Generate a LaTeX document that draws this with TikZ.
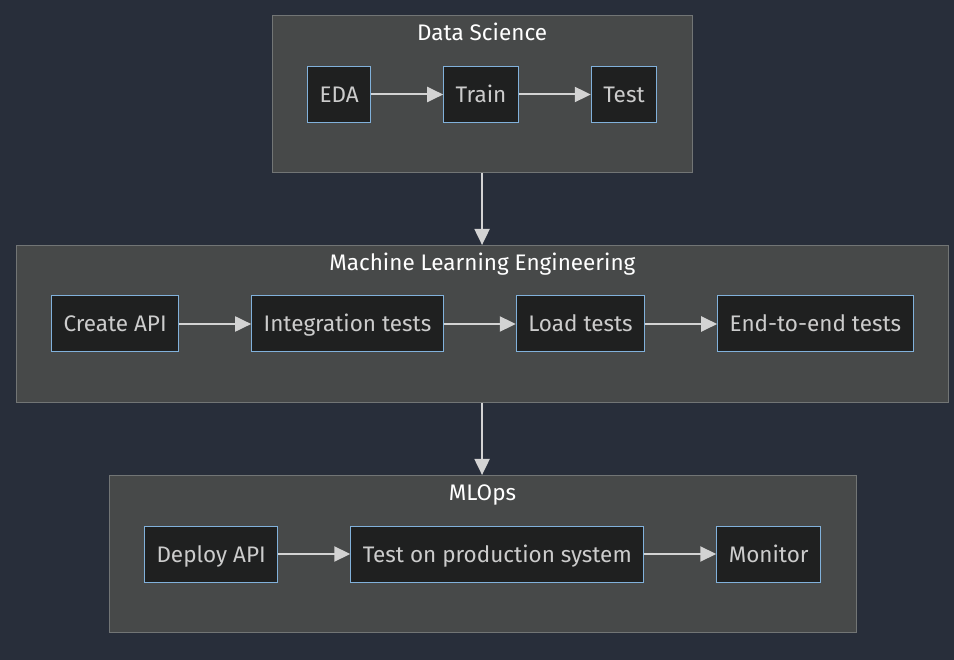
\documentclass[tikz,border=0pt]{standalone}
\usepackage{fontspec}
\setmainfont{Fira Sans}
\usetikzlibrary{arrows.meta,positioning,fit}
\definecolor{pagebg}{HTML}{282E3A}
\definecolor{stagefill}{HTML}{474949}
\definecolor{stageline}{HTML}{727575}
\definecolor{taskfill}{HTML}{1F2020}
\definecolor{taskline}{HTML}{81B1DB}
\definecolor{tasktext}{HTML}{CCCCCC}
\definecolor{linegrey}{HTML}{D3D3D3}
\pgfdeclarelayer{back}
\pgfsetlayers{back,main}

\begin{document}
\begin{tikzpicture}[x=1pt,y=-1pt,->,>={Triangle[length=16pt,width=15pt]},node distance=72pt,
	font=\fontsize{22.5}{26}\selectfont,
	every edge/.style={draw=linegrey,line width=2pt},
	task/.style={draw=taskline,fill=taskfill,text=tasktext,line width=1pt,minimum height=56pt,inner xsep=12pt,text height=16pt,text depth=0pt},
	stage/.style={draw=stageline,fill=stagefill,line width=1pt,inner xsep=35pt,inner ysep=50pt},
	stagetitle/.style={anchor=north,text=white,inner sep=9pt,text height=16pt,text depth=0pt}]
	
	\useasboundingbox (0,0) rectangle (954,660);
	
	\node[task,anchor=west] (eda) at (307,94.5) {EDA};
	\node[task] (train) [right=of eda] {Train};
	\node[task] (test) [right=of train] {Test};
	
	\node[task,anchor=west] (api) at (51,324) {Create API};
	\node[task] (integ) [right=of api] {Integration tests};
	\node[task] (load) [right=of integ] {Load tests};
	\node[task] (e2e) [right=of load] {End-to-end tests};
	
	\node[task,anchor=west] (deploy) at (144,554) {Deploy API};
	\node[task] (prod) [right=of deploy] {Test on production system};
	\node[task] (monitor) [right=of prod] {Monitor};
	
	\begin{pgfonlayer}{back}
		\fill[pagebg] (0,0) rectangle (954,660);
		\node[stage,fit=(eda)(test),label={[stagetitle]north:Data Science}] (ds) {};
		\node[stage,fit=(api)(e2e),label={[stagetitle]north:Machine Learning Engineering}] (mle) {};
		\node[stage,fit=(deploy)(monitor),label={[stagetitle]north:MLOps}] (ops) {};
	\end{pgfonlayer}
	
	\path
	(eda) edge (train)
	(train) edge (test)
	(api) edge (integ)
	(integ) edge (load)
	(load) edge (e2e)
	(deploy) edge (prod)
	(prod) edge (monitor)
	(ds.south) edge (ds.south |- mle.north)
	(ds.south |- mle.south) edge (ds.south |- ops.north);
\end{tikzpicture}
\end{document}
